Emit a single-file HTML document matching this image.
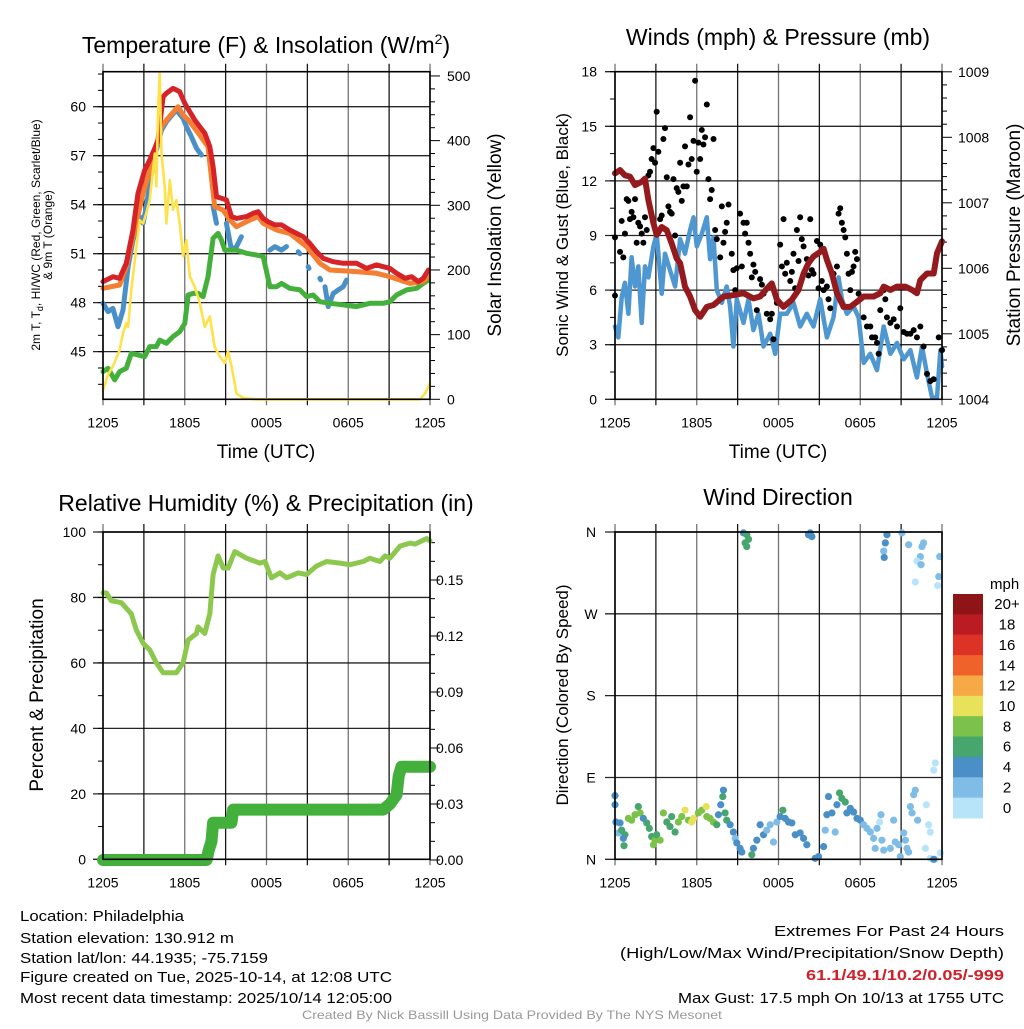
<!DOCTYPE html>
<html><head><meta charset="utf-8"><style>
html,body{margin:0;padding:0;background:#fff;}
svg text{font-family:"Liberation Sans",Arial,sans-serif;fill:#000;}
</style></head><body>
<svg id="fig" width="1024" height="1024" viewBox="0 0 1024 1024" xmlns="http://www.w3.org/2000/svg">
<rect width="1024" height="1024" fill="#fff"/>
<g id="layer"></g>
<text x="20" y="921" font-size="15" textLength="164" lengthAdjust="spacingAndGlyphs">Location: Philadelphia</text>
<text x="20" y="943" font-size="15" textLength="214" lengthAdjust="spacingAndGlyphs">Station elevation: 130.912 m</text>
<text x="20" y="963" font-size="15" textLength="248" lengthAdjust="spacingAndGlyphs">Station lat/lon: 44.1935; -75.7159</text>
<text x="20" y="982" font-size="15" textLength="372" lengthAdjust="spacingAndGlyphs">Figure created on Tue, 2025-10-14, at 12:08 UTC</text>
<text x="20" y="1003" font-size="15" textLength="372" lengthAdjust="spacingAndGlyphs">Most recent data timestamp: 2025/10/14 12:05:00</text>
<text x="1004" y="936" font-size="15" text-anchor="end" textLength="230" lengthAdjust="spacingAndGlyphs">Extremes For Past 24 Hours</text>
<text x="1004" y="958" font-size="15" text-anchor="end" textLength="384" lengthAdjust="spacingAndGlyphs">(High/Low/Max Wind/Precipitation/Snow Depth)</text>
<text x="1004" y="980" font-size="15" font-weight="bold" text-anchor="end" style="fill:#d0202a" textLength="198" lengthAdjust="spacingAndGlyphs">61.1/49.1/10.2/0.05/-999</text>
<text x="1004" y="1003" font-size="15" text-anchor="end" textLength="326" lengthAdjust="spacingAndGlyphs">Max Gust: 17.5 mph On 10/13 at 1755 UTC</text>
<text x="512" y="1019" font-size="12" text-anchor="middle" style="fill:#999" textLength="420" lengthAdjust="spacingAndGlyphs">Created By Nick Bassill Using Data Provided By The NYS Mesonet</text>
</svg>
<script>
// ---------- DATA ----------
const xTickLabels = ["1205","1805","0005","0605","1205"];
const tempTicks = [45,48,51,54,57,60];
const solarTicks = [0,100,200,300,400,500];
const windTicks = [0,3,6,9,12,15,18];
const presTicks = [1004,1005,1006,1007,1008,1009];
const rhTicks = [0,20,40,60,80,100];
const precTicks = ["0.00","0.03","0.06","0.09","0.12","0.15"];
const dirLabels = ["N","E","S","W","N"];
const speedClasses = ["0","2","4","6","8","10","12","14","16","18","20+"];

const tHours = [0,.73,1.22,1.71,2.2,2.57,3.06,3.43,3.8,4.04,4.41,4.65,5.14,5.39,5.63,6.0,6.37,6.74,7.1,7.47,7.84,8.08,8.33,8.69,9.06,9.43,9.8,10.53,11.02,11.39,11.76,12.12,12.61,13.1,13.71,14.69,15.18,15.67,16.16,16.9,17.63,18.61,19.35,20.08,20.57,21.06,21.55,22.17,22.65,23.14,23.51,23.88];
const tempRed = [49.29,49.59,49.49,50.41,52.45,54.69,56.12,56.73,57.45,57.96,60.61,60.82,61.12,61.02,60.92,60.2,59.69,59.18,58.78,58.37,57.55,56.33,54.49,54.39,54.29,53.27,53.16,53.27,53.47,53.57,53.16,52.96,52.76,52.76,52.45,52.04,51.63,51.12,50.71,50.51,50.41,50.41,50.1,50.31,50.2,50.1,49.8,49.49,49.59,49.29,49.49,50.0];
const oHours = [0,1.22,1.71,2.2,2.94,3.8,4.29,4.65,5.51,5.88,6.37,7.1,7.71,8.2,8.82,9.31,9.8,10.78,11.39,11.76,12.74,13.71,14.94,15.92,16.65,18.61,20.08,21.06,22.53,23.51,23.88];
const temp9m = [48.88,49.08,50.2,52.04,54.69,57.14,58.78,59.18,60.0,59.49,59.08,58.27,57.55,53.88,53.67,53.06,52.65,53.06,53.27,52.86,52.45,52.24,51.43,50.41,50.0,49.9,49.8,49.59,49.18,49.29,49.59];
const bHours = [0,.37,.73,1.1,1.47,1.84,2.2,2.69,2.94,3.18,3.55,3.92,4.29,4.65,5.39,5.88,6.12,6.49,6.86,7.22,null,8.08,8.33,null,9.06,9.43,9.8,10.16,null,12.25,12.61,13.1,13.47,null,14.33,14.45,null,15.06,15.12,null,15.92,15.98,null,16.29,16.53,16.9,17.27,17.63,17.88];
const heatIndex = [47.96,47.45,47.65,46.53,47.55,50.2,51.84,53.27,52.86,53.88,55.92,57.35,58.57,59.08,59.8,59.29,58.78,58.16,57.45,57.04,null,53.88,52.86,null,52.86,51.22,51.43,52.04,null,51.22,51.43,51.22,51.43,null,51.12,51.0,null,50.2,50.1,null,49.49,49.4,null,48.98,47.76,48.57,48.78,48.98,49.39];
const gHours = [0,.37,.86,1.22,1.71,2.08,2.57,3.06,3.43,3.92,4.16,4.65,5.14,5.63,6.0,6.25,6.61,6.98,7.35,7.71,8.08,8.45,8.69,8.94,9.8,10.53,11.27,11.76,12.25,12.74,13.1,13.71,14.45,14.94,15.43,15.92,16.65,17.63,18.61,19.59,20.57,21.06,21.55,22.29,23.02,23.51,23.88];
const dewpoint = [43.78,43.98,43.27,43.78,43.98,44.9,44.8,44.69,45.31,45.31,45.71,45.51,45.92,46.22,46.73,48.47,48.57,48.57,48.37,49.59,51.94,52.24,51.84,51.22,51.22,51.02,50.92,50.82,48.98,48.98,49.18,48.88,48.78,48.37,48.47,48.06,47.96,47.86,47.76,47.96,47.96,48.06,48.47,48.78,48.88,49.18,49.39];
const sHours = [0,.37,.73,1.22,1.47,1.71,1.84,2.08,2.45,2.69,2.94,3.18,3.43,3.67,3.8,3.92,4.04,4.16,4.29,4.53,4.65,4.9,5.14,5.39,5.63,5.88,6.12,6.37,6.74,7.1,7.47,7.84,8.2,8.57,8.94,9.18,9.43,9.8,10.29,11.27,23.27,23.63,24];
const solar = [14,38,51,76,102,118,112,169,236,277,272,288,308,355,380,329,442,504,380,329,272,339,293,308,272,221,246,190,174,149,112,128,81,66,56,74,51,9,2,0,0,9,25];

const pHours = [0,.37,.73,1.1,1.47,1.96,2.2,2.45,2.82,3.06,3.43,3.8,4.16,4.53,4.78,5.14,5.51,5.88,6.25,6.74,7.23,7.96,8.69,9.43,10.16,10.65,11.14,11.51,11.88,12.37,12.98,13.47,13.84,14.2,14.57,15.06,15.31,15.55,15.92,16.29,16.78,17.27,17.76,18.25,18.98,19.47,19.72,20.21,20.7,21.31,21.8,22.16,22.41,22.9,23.39,23.63,24];
const pressure = [1007.45,1007.5,1007.42,1007.4,1007.27,1007.32,1007.37,1007.04,1006.69,1006.51,1006.63,1006.58,1006.38,1006.15,1006.08,1005.72,1005.57,1005.36,1005.26,1005.41,1005.44,1005.57,1005.59,1005.62,1005.54,1005.57,1005.69,1005.77,1005.52,1005.41,1005.52,1005.67,1005.92,1006.08,1006.18,1006.25,1006.3,1006.13,1005.92,1005.62,1005.41,1005.41,1005.49,1005.57,1005.57,1005.62,1005.72,1005.67,1005.72,1005.72,1005.67,1005.62,1005.82,1005.92,1005.92,1006.23,1006.41];
const wHours = [0,.24,.49,.73,.98,1.22,1.47,1.71,1.96,2.2,2.45,2.82,3.06,3.43,3.67,4.04,4.41,4.78,5.14,5.51,5.76,6.0,6.37,6.74,6.98,7.23,7.47,7.84,8.2,8.45,8.69,8.94,9.43,9.8,10.16,10.53,10.9,11.39,11.76,12.12,12.61,13.1,13.59,14.08,14.57,15.06,15.55,16.04,16.41,16.65,17.02,17.51,17.88,18.25,18.74,19.23,19.72,20.21,20.7,21.19,21.68,22.16,22.53,22.9,23.27,23.63,23.88,24];
const windSpeed = [4.0,3.4,5.6,6.4,4.7,7.8,6.2,7.3,4.2,7.3,6.7,8.4,9.1,5.8,8.0,7.1,6.2,8.8,8.0,9.3,10.0,8.4,9.1,10.0,7.7,8.9,6.0,5.3,6.2,5.1,2.9,5.5,4.2,5.5,3.8,4.7,2.9,3.6,2.5,4.7,4.7,5.3,4.0,4.7,4.0,5.5,3.4,4.5,6.7,5.5,4.7,5.1,4.5,2.0,2.5,1.6,4.0,2.5,3.1,2.2,2.7,1.2,2.9,1.4,0.1,0.1,2.7,1.8];
const gustHours = [0,0,.37,.49,.61,.73,.86,.98,1.1,1.22,1.35,1.47,1.59,1.71,1.84,1.96,2.08,2.2,2.33,2.45,2.57,2.69,2.82,2.94,3.06,3.18,3.31,3.43,3.55,3.67,3.8,3.92,4.04,4.16,4.29,4.41,4.53,4.65,4.78,4.9,5.02,5.14,5.27,5.39,5.51,5.63,5.76,5.88,6.0,6.12,6.25,6.37,6.49,6.61,6.74,6.86,6.98,7.1,7.23,7.35,7.47,7.72,7.84,7.96,8.08,8.2,8.33,8.57,8.69,8.82,8.94,9.18,9.31,9.43,9.55,9.67,9.8,9.92,10.04,10.16,10.29,10.41,10.65,10.78,10.9,11.14,11.39,11.51,11.63,11.88,12.12,12.25,12.37,12.49,12.61,12.86,12.98,13.1,13.22,13.35,13.47,13.59,13.71,13.84,14.08,14.2,14.33,14.45,14.57,14.82,14.94,15.06,15.18,15.31,15.55,15.67,15.8,16.04,16.29,16.41,16.53,16.65,16.78,16.9,17.02,17.14,17.27,17.39,17.51,17.63,17.76,17.88,18.0,18.25,18.49,18.74,18.86,19.1,19.23,19.35,19.47,19.72,19.84,19.96,20.21,20.45,20.7,20.94,21.19,21.43,21.68,21.92,22.16,22.41,22.65,22.9,23.14,23.39,23.76,24.0];
const gust = [5.7,8.9,8.1,9.8,7.8,9.1,11.0,10.9,9.9,10.3,10.0,11.0,8.6,9.7,9.5,9.1,8.6,10.0,9.3,12.3,12.5,13.2,13.8,13.0,15.8,13.6,9.9,10.1,14.3,14.9,12.2,10.6,10.3,10.2,12.1,9.0,11.6,11.4,13.0,10.9,11.7,13.9,11.7,12.9,15.5,13.2,14.2,17.5,12.5,14.1,13.2,14.8,14.0,14.4,16.2,12.1,11.0,11.5,14.3,9.3,8.8,7.8,10.6,8.6,9.2,9.7,10.7,8.0,7.1,6.0,7.2,10.2,7.3,9.7,9.1,9.7,8.6,8.0,6.7,7.4,7.0,4.9,6.6,6.3,5.8,4.7,4.4,4.7,3.3,5.3,8.5,7.3,9.9,6.9,7.5,6.5,7.0,8.0,6.1,9.3,7.6,10.0,8.8,8.4,7.7,6.8,9.9,7.1,6.9,8.7,6.1,8.5,6.5,6.0,6.2,5.5,5.0,6.9,7.3,10.2,10.5,9.7,9.3,8.9,8.0,6.9,6.0,7.0,7.3,8.1,7.7,5.8,5.5,4.5,4.0,4.0,3.4,3.4,3.1,2.5,4.9,6.0,5.5,4.5,4.2,4.4,4.0,5.0,3.7,3.6,3.6,3.8,3.4,4.0,2.9,1.4,1.0,1.1,3.4,2.7];

const rhHours = [0,.24,.61,1.35,2.08,2.45,2.94,3.43,3.92,4.41,5.39,5.88,6.25,6.86,6.98,7.47,7.84,8.08,8.45,8.82,9.18,9.67,10.53,11.51,11.88,12.37,12.98,13.47,14.33,14.94,15.67,16.41,17.39,18.12,19.1,19.59,20.33,20.7,21.06,21.8,22.53,22.9,23.76,24];
const rh = [81.4,81.4,79,78.4,75,70,66,64,60,57,57,60,67,69,71,69,75,87,92.7,89,89,94,92,90.5,91,86,87.5,86,87.5,87,89.6,91,90.5,90,91,92,91,92.7,92,95.7,96.6,96.3,98,97.3];
const prHours = [0,7.6,7.75,7.96,8.08,9.43,9.55,20.57,21.06,21.55,21.7,21.9,24];
const precip = [0,0,0.005,0.01,0.02,0.02,0.027,0.027,0.03,0.035,0.045,0.05,0.05];

const dHours = [9.43,9.67,9.8,9.55,9.67,14.33,14.45,14.2,19.96,19.84,19.72,19.76,21.06,21.55,22.65,22.53,22.41,22.16,22.46,23.83,22.04,23.76,23.68,23.51,23.39,0,0,.07,.37,.24,.49,.73,.61,.66,.98,1.22,1.47,1.71,1.84,2.08,2.33,2.52,2.69,2.82,2.94,3.06,3.31,3.55,3.8,4.04,4.16,4.41,4.65,4.9,5.14,5.39,5.63,5.76,6.12,6.37,6.69,6.74,6.98,7.22,7.47,7.59,7.76,7.91,7.96,8.08,8.2,8.45,8.69,8.82,8.94,9.18,9.31,10.04,10.16,10.41,10.65,10.9,11.14,11.39,11.63,11.88,12.12,12.32,12.49,12.74,12.98,13.23,13.59,13.84,14.08,14.69,14.94,15.31,15.43,15.55,15.67,15.92,16.16,16.29,16.48,16.65,16.9,17.02,17.27,17.51,17.76,18.0,18.25,18.49,18.74,18.98,19.23,19.42,19.52,19.59,19.1,19.72,20.21,20.45,20.57,20.82,20.94,21.19,21.31,21.43,21.55,21.68,21.8,21.92,22.04,22.21,22.78,22.85,23.02,23.14,23.14,23.51,23.88,23.39];
const dirDeg = [359,357,352,348,344,359,355,357,357,348,339,332,359,346,348,344,333,328,324,333,305,311,301,106,98,70,60,41,40,29,32,27,23,15,45,43,49,58,51,45,40,34,25,16,21,27,21,51,41,36,47,30,41,47,54,43,41,45,51,54,58,47,45,41,38,49,60,69,76,51,43,38,30,23,18,12,8,5,12,21,38,27,32,38,19,41,47,54,45,41,40,27,29,23,16,1,3,14,32,49,69,51,30,60,73,67,63,51,56,52,45,43,38,34,30,23,34,41,49,21,12,10,12,43,19,16,3,29,21,12,8,58,51,71,76,43,12,60,38,30,1,0,7,0];
const dirSpeed = [4,6,6,6,6,4,4,4,4,4,2,4,2,2,2,2,2,0,2,2,0,2,0,0,0,4,4,4,4,2,6,6,4,6,8,8,8,6,8,4,6,6,6,8,8,6,8,8,6,6,6,6,8,8,10,8,10,10,8,8,10,8,8,8,6,4,4,6,4,6,6,4,4,2,4,4,4,6,4,4,4,4,2,2,2,2,4,6,4,4,4,4,4,4,4,4,4,4,2,4,4,4,2,4,6,6,6,4,4,4,4,4,2,2,2,2,2,0,2,2,2,2,2,2,2,2,2,2,2,2,2,2,2,2,2,2,0,0,0,0,0,0,0,4,0];

// ---------- DRAWING ----------
const NS='http://www.w3.org/2000/svg';
const layer=document.getElementById('layer');
function mk(tag,attrs,parent){const e=document.createElementNS(NS,tag);for(const k in attrs)e.setAttribute(k,attrs[k]);(parent||layer).appendChild(e);return e;}
function txt(s,attrs,parent){const e=mk('text',attrs,parent);e.textContent=s;return e;}
function tsp(parent,s,attrs){const e=mk('tspan',attrs||{},parent);e.textContent=s;return e;}
function pathFrom(xs,ys,fx,fy){let d='',pen=false;for(let i=0;i<xs.length;i++){if(xs[i]===null||ys[i]===null){pen=false;continue;}d+=(pen?'L':'M')+fx(xs[i]).toFixed(1)+','+fy(ys[i]).toFixed(1);pen=true;}return d;}

const L=103,R=430,L2=615,R2=942;
function panelFrame(g,x0,x1,y0,y1){
  for(let h=0;h<=24;h+=3){const x=x0+(x1-x0)*h/24;
    const ln=mk('line',{x1:x,x2:x,y1:y0-8,y2:y1+6,stroke:'#000','stroke-width':1.3,'stroke-opacity':(h%6==0?0.55:0.9)},g);
    
    }
  const labs=mk('g',{},g);
  
  
  xTickLabels.forEach((s,i)=>{txt(s,{x:x0+(x1-x0)*i/4,y:y1+28,'font-size':14,'text-anchor':'middle'},labs);});
}
function hgrid(g,x0,x1,y){const ln=mk('line',{x1:x0-10,x2:x1,y1:y,y2:y,stroke:'#000','stroke-width':1.3,'stroke-opacity':0.85},g);
  
  }
function tick(g,x,y,len){mk('line',{x1:x,x2:x+len,y1:y,y2:y,stroke:'#000','stroke-width':1},g);}
function box(g,x0,x1,y0,y1){const b=mk('rect',{x:x0,y:y0,width:x1-x0,height:y1-y0,fill:'none',stroke:'#000','stroke-width':1.6},g);
  
  }
function line(g,name,xs,ys,fx,fy,color,w){const p=mk('path',{d:pathFrom(xs,ys,fx,fy),fill:'none',stroke:color,'stroke-width':w,'stroke-linejoin':'round','stroke-linecap':'round'},g);
  
  return p;}

// ===== Panel 1 =====
(function(){
  const g=mk('g',{});
  
  
  const y0=71.7,y1=399.3;
  const fx=h=>L+(R-L)*h/24;
  const fy=t=>106.7+(60-t)*16.33;
  const fs=s=>y1-s*0.6467;
  panelFrame(g,L,R,y0,y1);
  for(let t=43;t<=62;t++){const y=fy(t);if(y<y0||y>y1)continue;tick(g,L,y,-5);}
  tempTicks.forEach(t=>{hgrid(g,L,R,fy(t));txt(String(t),{x:86,y:fy(t)+5,'font-size':14,'text-anchor':'end'},g);});
  for(let s=0;s<=500;s+=20)tick(g,R,fs(s),s%100==0?10:5);
  solarTicks.forEach(s=>txt(String(s),{x:447,y:fs(s)+5,'font-size':14},g));
  line(g,'heat-index-line',bHours,heatIndex,fx,fy,'#4a90c8',5);
  line(g,'dewpoint-line',gHours,dewpoint,fx,fy,'#44b03c',5);
  line(g,'temp-9m-line',oHours,temp9m,fx,fy,'#f47e32',5);
  line(g,'temp-2m-line',tHours,tempRed,fx,fy,'#d62327',5);
  line(g,'solar-line',sHours,solar,fx,fs,'#ffe14a',2.6);
  box(g,L,R,y0,y1);
  const t=txt('Temperature (F) & Insolation (W/m',{x:266,y:53,'font-size':23,'text-anchor':'middle'},g);
  
  
  tsp(t,'2',{dy:-9,'font-size':14});
  tsp(t,')',{dy:9});
  const yl=txt('2m T, T',{transform:'translate(40,235) rotate(-90)','font-size':12,'text-anchor':'middle'},g);
  
  
  tsp(yl,'d',{dy:3,'font-size':9});
  tsp(yl,', HI/WC (Red, Green, Scarlet/Blue)',{dy:-3});
  const yl2=txt('& 9m T (Orange)',{transform:'translate(52,235) rotate(-90)','font-size':12,'text-anchor':'middle'},g);
  
  
  const rl=txt('Solar Insolation (Yellow)',{transform:'translate(501,235) rotate(-90)','font-size':19,'text-anchor':'middle'},g);
  
  
  const xl=txt('Time (UTC)',{x:266,y:458,'font-size':19,'text-anchor':'middle'},g);
  
  
})();

// ===== Panel 2 =====
(function(){
  const g=mk('g',{});
  
  
  const y0=71.7,y1=399.3;
  const fx=h=>L2+(R2-L2)*h/24;
  const fw=w=>y1-w*18.2;
  const fp=p=>y1-(p-1004)*65.5;
  panelFrame(g,L2,R2,y0,y1);
  for(let w=0;w<=18;w+=1.5)tick(g,L2,fw(w),-5);
  windTicks.forEach(w=>{hgrid(g,L2,R2,fw(w));txt(String(w),{x:597,y:fw(w)+5,'font-size':14,'text-anchor':'end'},g);});
  for(let k=0;k<=25;k++)tick(g,R2,fp(1004+k*0.2),k%5==0?10:5);
  presTicks.forEach(p=>txt(String(p),{x:958,y:fp(p)+5,'font-size':14},g));
  line(g,'sonic-wind-line',wHours,windSpeed,fx,fw,'#4f97d0',4.5);
  const dots=mk('g',{},g);
  
  
  gust.forEach((v,i)=>{const c=mk('circle',{cx:fx(gustHours[i]),cy:fw(v),r:3,fill:'#000'},dots);
    
    });
  line(g,'pressure-line',pHours,pressure,fx,fp,'#951a1d',6);
  box(g,L2,R2,y0,y1);
  const t=txt('Winds (mph) & Pressure (mb)',{x:778,y:45,'font-size':23,'text-anchor':'middle'},g);
  
  
  const yl=txt('Sonic Wind & Gust (Blue, Black)',{transform:'translate(568,235) rotate(-90)','font-size':17,'text-anchor':'middle'},g);
  
  
  const rl=txt('Station Pressure (Maroon)',{transform:'translate(1020,235) rotate(-90)','font-size':19,'text-anchor':'middle'},g);
  
  
  const xl=txt('Time (UTC)',{x:778,y:458,'font-size':19,'text-anchor':'middle'},g);
  
  
})();

// ===== Panel 3 =====
(function(){
  const g=mk('g',{});
  
  
  const y0=532,y1=859.3;
  const fx=h=>L+(R-L)*h/24;
  const fr=v=>y1-v*3.273;
  const fpr=p=>860-p*1866.7;
  panelFrame(g,L,R,y0,y1);
  for(let v=0;v<=100;v+=10)tick(g,L,fr(v),-5);
  rhTicks.forEach(v=>{hgrid(g,L,R,fr(v));txt(String(v),{x:86,y:fr(v)+5,'font-size':14,'text-anchor':'end'},g);});
  for(let k=0;k<=17;k++)tick(g,R,fpr(k*0.01),k%3==0?10:5);
  precTicks.forEach(s=>txt(s,{x:436,y:fpr(parseFloat(s))+5,'font-size':14},g));
  line(g,'relative-humidity-line',rhHours,rh,fx,fr,'#8dc84e',5);
  line(g,'precipitation-line',prHours,precip,fx,fpr,'#44b03c',12);
  box(g,L,R,y0,y1);
  const t=txt('Relative Humidity (%) & Precipitation (in)',{x:266,y:511,'font-size':23,'text-anchor':'middle'},g);
  
  
  const yl=txt('Percent & Precipitation',{transform:'translate(43,695) rotate(-90)','font-size':19,'text-anchor':'middle'},g);
  
  
})();

// ===== Panel 4 =====
(function(){
  const g=mk('g',{});
  
  
  const y0=532,y1=859.3;
  const fx=h=>L2+(R2-L2)*h/24;
  const fd=d=>y1-d*(y1-y0)/360;
  const colors=['#b7e4f9','#80bde6','#4a8fc6','#47a56e','#7cc24a','#e7e25a','#f6a945','#ef6229','#dd3327','#bb1b23','#8f1418'];
  panelFrame(g,L2,R2,y0,y1);
  dirLabels.forEach((s,i)=>{const y=fd(i*90);hgrid(g,L2,R2,y);txt(s,{x:591,y:y+5,'font-size':14,'text-anchor':'middle'},g);});
  const dots=mk('g',{},g);
  
  
  dirDeg.forEach((d,i)=>{const c=mk('circle',{cx:fx(dHours[i]),cy:fd(d),r:3.6,fill:colors[Math.min(10,Math.round(dirSpeed[i]/2))]},dots);
    
    });
  box(g,L2,R2,y0,y1);
  const t=txt('Wind Direction',{x:778,y:505,'font-size':23,'text-anchor':'middle'},g);
  
  
  const yl=txt('Direction (Colored By Speed)',{transform:'translate(568,695) rotate(-90)','font-size':17,'text-anchor':'middle'},g);
  
  
  const cb=mk('g',{},g);
  
  
  txt('mph',{x:990,y:589,'font-size':15},cb);
  const bh=224/11;
  speedClasses.forEach((s,i)=>{const k=10-i;const y=594+i*bh;
    const r=mk('rect',{x:953,y:y,width:30,height:bh+0.5,fill:colors[k]},cb);
    
    
    txt(speedClasses[k],{x:1007,y:y+bh/2+5,'font-size':15,'text-anchor':'middle'},cb);});
})();
</script>
</body></html>
